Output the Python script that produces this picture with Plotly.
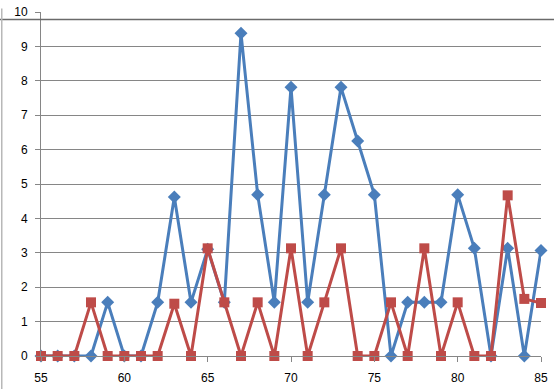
import plotly.graph_objects as go

x_values = list(range(55, 86))
blue_values = [0, 0, 0, 0, 1.56, 0, 0, 1.56, 4.62, 1.56, 3.1, 1.56, 9.38, 4.69, 1.56,
               7.81, 1.56, 4.69, 7.81, 6.25, 4.69, 0, 1.56, 1.56, 1.56, 4.69, 3.13, 0,
               3.13, 0, 3.07]
red_values = [0, 0, 0, 1.56, 0, 0, 0, 0, 1.52, 0, 3.13, 1.56, 0, 1.56, 0,
              3.13, 0, 1.56, 3.13, 0, 0, 1.56, 0, 3.13, 0, 1.56, 0, 0,
              4.67, 1.66, 1.54]
x_tick_vals = [55, 60, 65, 70, 75, 80, 85]
y_tick_vals = list(range(0, 11))

BLUE = "#4A7EBB"
RED = "#BE4B48"
GRID = "#868686"

fig = go.Figure()
fig.add_trace(go.Scatter(
    x=x_values, y=blue_values, mode="lines+markers",
    line=dict(color=BLUE, width=3),
    marker=dict(symbol="diamond", size=10, color=BLUE),
    cliponaxis=False, showlegend=False))
fig.add_trace(go.Scatter(
    x=x_values, y=red_values, mode="lines+markers",
    line=dict(color=RED, width=3),
    marker=dict(symbol="square", size=10, color=RED),
    cliponaxis=False, showlegend=False))

fig.update_layout(
    width=554, height=389,
    margin=dict(l=41, r=13, t=12, b=33, autoexpand=False),
    paper_bgcolor="white", plot_bgcolor="white",
    font=dict(family="Liberation Sans, Arial, sans-serif", size=12, color="#000000"),
    xaxis=dict(range=[55, 85], tickvals=x_tick_vals, ticks="outside", ticklen=5,
               tickcolor=GRID, showline=True, linecolor=GRID, linewidth=1,
               showgrid=False, zeroline=False, ticklabelstandoff=6, automargin=False),
    yaxis=dict(range=[0, 10], tickvals=y_tick_vals, ticks="outside", ticklen=5,
               tickcolor=GRID, showline=True, linecolor=GRID, linewidth=1,
               showgrid=True, gridcolor=GRID, gridwidth=1, zeroline=False,
               ticklabelstandoff=5, automargin=False),
    shapes=[
        dict(type="line", xref="paper", yref="paper", x0=-0.09, x1=1.03,
             y0=0.978, y1=0.978, line=dict(color="#6a6a6a", width=1.5)),
        dict(type="line", xref="paper", yref="paper", x0=-0.0785, x1=-0.0785,
             y0=1.01, y1=-0.1, line=dict(color="#b8b8b8", width=1.5)),
    ],
)

fig.write_html("out.html", config={"displayModeBar": False},
               post_script="document.body.style.margin='0';document.body.style.overflow='hidden';")
